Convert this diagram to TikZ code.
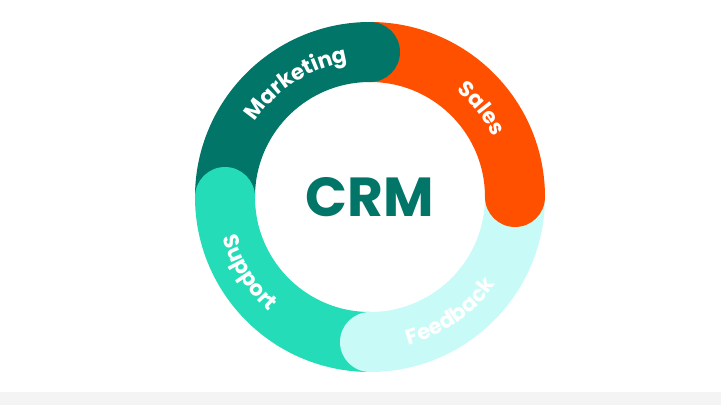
\documentclass[tikz,border=0pt]{standalone}
\usepackage{fontspec}
\setmainfont{Poppins}
\usetikzlibrary{decorations.text}
\definecolor{crmteal}{RGB}{0,117,104}
\definecolor{salesorange}{RGB}{255,80,0}
\definecolor{feedbackcyan}{RGB}{200,251,248}
\definecolor{supportgreen}{RGB}{36,221,184}
\definecolor{stripgray}{RGB}{244,244,244}

\begin{document}
\begin{tikzpicture}[
    band/.style={line width=60pt},
    ringlabel/.style={decorate, decoration={text along path, text align=center,
        text={|\color{white}\bfseries\fontsize{21.5}{21.5}\selectfont|#1}}}]
    \useasboundingbox[fill=white] (-370pt,-208pt) rectangle (351pt,197pt);
    \fill[stripgray] (-370pt,-208pt) rectangle (351pt,-195pt);

    % ring segments
    \draw[band, crmteal] (180:145pt) arc[start angle=180, end angle=90, radius=145pt];
    \draw[band, salesorange] (90:145pt) arc[start angle=90, end angle=0, radius=145pt];
    \draw[band, feedbackcyan] (0:145pt) arc[start angle=360, end angle=270, radius=145pt];
    \draw[band, supportgreen] (270:145pt) arc[start angle=270, end angle=180, radius=145pt];

    % rounded ends
    \fill[crmteal] (90:145pt) circle[radius=30pt];
    \fill[salesorange] (0:145pt) circle[radius=30pt];
    \fill[feedbackcyan] (270:145pt) circle[radius=30pt];
    \fill[supportgreen] (180:145pt) circle[radius=30pt];

    % labels
    \path[ringlabel=Marketing] (175:137pt) arc[start angle=175, end angle=71, radius=137pt];
    \path[ringlabel=Sales] (80:137pt) arc[start angle=80, end angle=-3, radius=137pt];
    \path[ringlabel=Feedback] (250:153pt) arc[start angle=250, end angle=360, radius=153pt];
    \path[ringlabel=Support] (160:153pt) arc[start angle=160, end angle=264, radius=153pt];

    \node[font=\bfseries\fontsize{55}{55}\selectfont, text=crmteal] (crm) at (0,0) {CRM};
\end{tikzpicture}
\end{document}
